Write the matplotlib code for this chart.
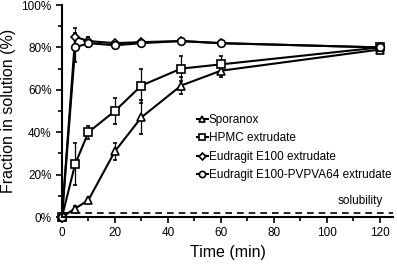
import matplotlib
matplotlib.use("Agg")
import matplotlib.pyplot as plt
from matplotlib.lines import Line2D
from matplotlib.ticker import MultipleLocator, PercentFormatter

plt.rcParams['font.family'] = ['Liberation Sans', 'DejaVu Sans']

time = [0, 5, 10, 20, 30, 45, 60, 120]

sporanox = [0, 4, 8, 31, 47, 62, 69, 79]
sporanox_err = [0, 1, 1, 4, 8, 4, 3, 1]
hpmc = [0, 25, 40, 50, 62, 70, 72, 80]
hpmc_err = [0, 10, 3, 6, 8, 6, 4, 1]
e100 = [0, 85, 83, 82, 82.5, 83, 82, 80]
e100_err = [0, 4, 2, 1, 1, 1, 1, 1]
pvpva = [0, 80, 82, 81, 82, 83, 82, 80]
pvpva_err = [0, 7, 2, 1, 1, 1, 1, 1]

labels = ["Sporanox", "HPMC extrudate", "Eudragit E100 extrudate",
          "Eudragit E100-PVPVA64 extrudate"]
series = [(sporanox, sporanox_err, '^'), (hpmc, hpmc_err, 's'),
          (e100, e100_err, 'D'), (pvpva, pvpva_err, 'o')]
solubility = 2

fig = plt.figure(figsize=(3.97, 2.64), dpi=100)
ax = fig.add_axes([0.156, 0.178, 0.834, 0.803])

handles = []
for (vals, err, m), lab in zip(series, labels):
    ms = 5.5 if m != 'D' else 4.5
    ax.errorbar(time, vals, yerr=err, color='black', lw=1.5, marker=m,
                markersize=ms, markerfacecolor='white',
                markeredgecolor='black', markeredgewidth=1.2,
                elinewidth=0.9, capsize=1.5, clip_on=False)
    handles.append(Line2D([], [], color='black', lw=1.5, marker=m,
                          markersize=ms - 1, markerfacecolor='white',
                          markeredgecolor='black', markeredgewidth=1.2))

ax.axhline(solubility, color='black', lw=1.2, ls=(0, (4, 3)))
ax.text(121, solubility + 2.5, "solubility", fontsize=8.5, ha='right', va='bottom')

ax.set_xlim(0, 125)
ax.set_ylim(0, 100)
ax.xaxis.set_major_locator(MultipleLocator(20))
ax.xaxis.set_minor_locator(MultipleLocator(10))
ax.yaxis.set_major_locator(MultipleLocator(20))
ax.yaxis.set_minor_locator(MultipleLocator(10))
ax.yaxis.set_major_formatter(PercentFormatter(decimals=0))
ax.tick_params(which='both', direction='out', width=1.2, labelsize=8.5)
ax.tick_params(which='major', length=4)
ax.tick_params(which='minor', length=3)
ax.spines['top'].set_visible(False)
ax.spines['right'].set_visible(False)
ax.spines['left'].set_linewidth(1.5)
ax.spines['bottom'].set_linewidth(1.5)

ax.set_xlabel("Time (min)", fontsize=11.5)
ax.set_ylabel("Fraction in solution (%)", fontsize=11.5)

ax.legend(handles, labels, loc='upper left', bbox_to_anchor=(0.39, 0.515),
          frameon=False, fontsize=8.5, handlelength=0.9, handletextpad=0.1,
          labelspacing=0.55, borderpad=0)

fig.savefig("out.png", dpi=100)
